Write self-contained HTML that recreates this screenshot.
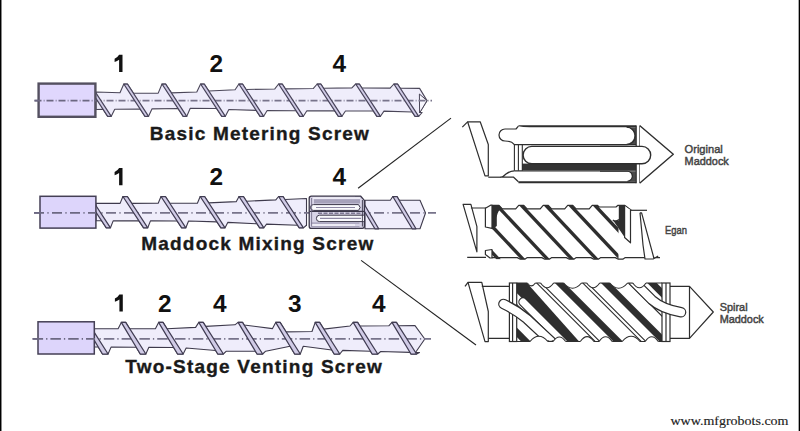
<!DOCTYPE html>
<html><head><meta charset="utf-8"><style>
html,body{margin:0;padding:0;background:#fff;}
body{width:800px;height:431px;overflow:hidden;position:relative;}
svg{position:absolute;left:0;top:0;}
</style></head><body>
<svg width="800" height="431" viewBox="0 0 800 431">
<rect x="0" y="0" width="800" height="431" fill="#fff"/>
<polygon points="96,92 120,92.82 123.8,84 127.4,84 133.48,93.28 158.2,93.14 162,84 165.6,84 171.41,92.87 196.8,91.98 200.6,84 204.2,84 208.83,91.07 235.1,89.7 238.9,84 242.5,84 246.09,89.48 274.8,88.95 278.6,84 282.2,84 285.37,88.85 313.4,88.43 317.2,84 320.8,84 323.57,88.23 351.9,87.86 355.7,84 359.3,84 361.88,87.94 390.1,88.16 393.9,84 397.5,84 400.28,88.24 419.6,88.4 427,100.6 419.6,112.47 422.16,112.5 418.66,116.3 415.06,116.3 412.24,112 383.96,111.12 380.46,116.3 376.86,116.3 373.43,111.07 345.46,110.93 341.96,116.3 338.36,116.3 334.8,110.87 306.86,110.73 303.36,116.3 299.76,116.3 296.08,110.68 267.16,110.54 263.66,116.3 260.06,116.3 256.21,110.42 228.86,109.48 225.36,116.3 221.76,116.3 216.61,108.44 190.26,108.3 186.76,116.3 183.16,116.3 178.03,108.47 152.06,108.83 148.56,116.3 144.96,116.3 140.17,109 114.76,109.29 111.26,116.3 107.66,116.3 103.15,109.42 96,109.5" fill="#efedfb" stroke="#4a4658" stroke-width="1.1" stroke-linejoin="round"/>
<polygon points="419.4,94 427,100.6 419.6,113" fill="#f7f6fd" stroke="#4a4658" stroke-width="1"/>
<line x1="34.5" y1="100.6" x2="432" y2="100.6" stroke="#78748b" stroke-width="1.8" stroke-dasharray="7 2.2 0.8 2"/>
<polygon points="86.5,84 90.1,84 111.26,116.3 107.66,116.3" fill="#d0cbe6" stroke="#48445a" stroke-width="1.25" stroke-linejoin="round"/>
<polygon points="123.8,84 127.4,84 148.56,116.3 144.96,116.3" fill="#d0cbe6" stroke="#48445a" stroke-width="1.25" stroke-linejoin="round"/>
<polygon points="162,84 165.6,84 186.76,116.3 183.16,116.3" fill="#d0cbe6" stroke="#48445a" stroke-width="1.25" stroke-linejoin="round"/>
<polygon points="200.6,84 204.2,84 225.36,116.3 221.76,116.3" fill="#d0cbe6" stroke="#48445a" stroke-width="1.25" stroke-linejoin="round"/>
<polygon points="238.9,84 242.5,84 263.66,116.3 260.06,116.3" fill="#d0cbe6" stroke="#48445a" stroke-width="1.25" stroke-linejoin="round"/>
<polygon points="278.6,84 282.2,84 303.36,116.3 299.76,116.3" fill="#d0cbe6" stroke="#48445a" stroke-width="1.25" stroke-linejoin="round"/>
<polygon points="317.2,84 320.8,84 341.96,116.3 338.36,116.3" fill="#d0cbe6" stroke="#48445a" stroke-width="1.25" stroke-linejoin="round"/>
<polygon points="355.7,84 359.3,84 380.46,116.3 376.86,116.3" fill="#d0cbe6" stroke="#48445a" stroke-width="1.25" stroke-linejoin="round"/>
<polygon points="393.9,84 397.5,84 418.66,116.3 415.06,116.3" fill="#d0cbe6" stroke="#48445a" stroke-width="1.25" stroke-linejoin="round"/>
<rect x="38.6" y="83.6" width="56.8" height="33.2" fill="#e0d7fd" stroke="#545060" stroke-width="2.4"/>
<line x1="34.5" y1="100.6" x2="96" y2="100.6" stroke="#6c6882" stroke-width="1.8" stroke-dasharray="7 2.2 0.8 2"/>
<polygon points="96,203.4 120.1,203.35 122.9,196.5 127.3,196.5 131.81,203.33 158.2,203.28 161,196.5 165.4,196.5 169.86,203.26 197.4,203.2 200.2,196.5 204.6,196.5 208.78,202.83 236.2,201.66 239,196.5 243.4,196.5 246.5,201.2 275.8,199.87 278.6,196.5 283,196.5 284.95,199.46 306.5,198.5 306.5,205 306.5,220 306.5,225.5 306.16,225.5 303.46,227.8 299.26,227.8 297.54,225.2 266.56,224.09 263.86,227.8 259.66,227.8 256.98,223.75 227.76,222.39 225.06,227.8 220.86,227.8 216.93,221.85 188.56,220.98 185.86,227.8 181.66,227.8 177.14,220.96 150.46,220.9 147.76,227.8 143.56,227.8 138.99,220.88 113.16,220.83 110.46,227.8 106.26,227.8 101.65,220.81 96,220.8" fill="#efedfb" stroke="#3e3a4c" stroke-width="1.1" stroke-linejoin="round"/>
<line x1="32" y1="212.8" x2="310" y2="212.8" stroke="#77738a" stroke-width="1.8" stroke-dasharray="10 3.4 1.2 3.4" stroke-dashoffset="-2"/>
<polygon points="85.6,196.5 90,196.5 110.46,227.8 106.26,227.8" fill="#d0cbe6" stroke="#403c52" stroke-width="1.25" stroke-linejoin="round"/>
<polygon points="122.9,196.5 127.3,196.5 147.76,227.8 143.56,227.8" fill="#d0cbe6" stroke="#403c52" stroke-width="1.25" stroke-linejoin="round"/>
<polygon points="161,196.5 165.4,196.5 185.86,227.8 181.66,227.8" fill="#d0cbe6" stroke="#403c52" stroke-width="1.25" stroke-linejoin="round"/>
<polygon points="200.2,196.5 204.6,196.5 225.06,227.8 220.86,227.8" fill="#d0cbe6" stroke="#403c52" stroke-width="1.25" stroke-linejoin="round"/>
<polygon points="239,196.5 243.4,196.5 263.86,227.8 259.66,227.8" fill="#d0cbe6" stroke="#403c52" stroke-width="1.25" stroke-linejoin="round"/>
<polygon points="278.6,196.5 283,196.5 303.46,227.8 299.26,227.8" fill="#d0cbe6" stroke="#403c52" stroke-width="1.25" stroke-linejoin="round"/>
<polygon points="365,200.2 390.3,200.2 392.8,196.5 397,196.5 399.22,200.2 420,200.2 425.5,213 420,228.7 418.48,228.7 415.98,228.8 412.18,228.8 412.12,228.7 381.18,228.7 378.68,228.8 374.88,228.8 374.82,228.7 365,228.7" fill="#efedfb" stroke="#3e3a4c" stroke-width="1.1" stroke-linejoin="round"/>
<line x1="366" y1="212.8" x2="436" y2="212.8" stroke="#77738a" stroke-width="1.8" stroke-dasharray="10 3.4 1.2 3.4" stroke-dashoffset="-8"/>
<polygon points="355.5,196.5 359.7,196.5 378.68,228.8 374.88,228.8" fill="#d0cbe6" stroke="#403c52" stroke-width="1.25" stroke-linejoin="round"/>
<polygon points="392.8,196.5 397,196.5 415.98,228.8 412.18,228.8" fill="#d0cbe6" stroke="#403c52" stroke-width="1.25" stroke-linejoin="round"/>
<rect x="40" y="196.3" width="55.9" height="31.8" fill="#ddd5fb" stroke="#443f55" stroke-width="1.5"/>
<line x1="32" y1="212.8" x2="96" y2="212.8" stroke="#6c6882" stroke-width="1.8" stroke-dasharray="10 3.4 1.2 3.4" stroke-dashoffset="-2"/>
<polygon points="94.5,328.8 118.1,328.8 121.3,322.4 125.7,322.4 129.54,328.8 155.4,328.8 158.6,322.4 163,322.4 166.84,328.8 195.6,327.34 198.8,322.4 203.2,322.4 205.61,326.41 234.9,324.82 238.1,322.4 242.5,322.4 244.08,325.03 272.5,328.59 275.7,322.4 280.1,322.4 285.8,331.9 312,331.49 315.2,322.4 319.6,322.4 323.61,329.09 350,326 353.2,322.4 357.6,322.4 359.72,325.94 388.8,325.76 392,322.4 396.4,322.4 398.38,325.7 415,325.6 424.8,339 415.5,352.5 419.56,352.5 416.56,354 410.96,354 409.97,352.35 380.76,351.49 377.76,354 372.16,354 370.47,351.19 342.76,350.38 339.76,354 334.16,354 331.79,350.05 303.26,346.3 300.26,354 294.66,354 290.04,346.3 265.66,351.2 262.66,354 257.06,354 255.38,351.2 226.36,351.2 223.36,354 217.76,354 215.62,350.43 186.16,348.01 183.16,354 177.56,354 173.64,347.46 148.86,347.32 145.86,354 140.26,354 136.21,347.24 111.06,347.1 108.06,354 102.46,354 98.27,347.02 94.5,347" fill="#efedfb" stroke="#3e3a4c" stroke-width="1.1" stroke-linejoin="round"/>
<line x1="32.6" y1="338.8" x2="431" y2="338.8" stroke="#77738a" stroke-width="1.8" stroke-dasharray="10.5 3 1.3 3"/>
<polygon points="83.5,322.4 87.9,322.4 108.06,354 102.46,354" fill="#d0cbe6" stroke="#403c52" stroke-width="1.25" stroke-linejoin="round"/>
<polygon points="121.3,322.4 125.7,322.4 145.86,354 140.26,354" fill="#d0cbe6" stroke="#403c52" stroke-width="1.25" stroke-linejoin="round"/>
<polygon points="158.6,322.4 163,322.4 183.16,354 177.56,354" fill="#d0cbe6" stroke="#403c52" stroke-width="1.25" stroke-linejoin="round"/>
<polygon points="198.8,322.4 203.2,322.4 223.36,354 217.76,354" fill="#d0cbe6" stroke="#403c52" stroke-width="1.25" stroke-linejoin="round"/>
<polygon points="238.1,322.4 242.5,322.4 262.66,354 257.06,354" fill="#d0cbe6" stroke="#403c52" stroke-width="1.25" stroke-linejoin="round"/>
<polygon points="275.7,322.4 280.1,322.4 300.26,354 294.66,354" fill="#d0cbe6" stroke="#403c52" stroke-width="1.25" stroke-linejoin="round"/>
<polygon points="315.2,322.4 319.6,322.4 339.76,354 334.16,354" fill="#d0cbe6" stroke="#403c52" stroke-width="1.25" stroke-linejoin="round"/>
<polygon points="353.2,322.4 357.6,322.4 377.76,354 372.16,354" fill="#d0cbe6" stroke="#403c52" stroke-width="1.25" stroke-linejoin="round"/>
<polygon points="392,322.4 396.4,322.4 416.56,354 410.96,354" fill="#d0cbe6" stroke="#403c52" stroke-width="1.25" stroke-linejoin="round"/>
<rect x="38" y="321.8" width="56.3" height="32.2" fill="#ddd5fb" stroke="#443f55" stroke-width="1.5"/>
<line x1="32.6" y1="338.8" x2="95" y2="338.8" stroke="#6c6882" stroke-width="1.8" stroke-dasharray="10.5 3 1.3 3"/>

<path d="M311.4,196.2 H360.7 L364.4,200.4 V226.3 Q364.4,228.4 362.3,228.4 H311.4 Q309.2,228.4 309.2,226.2 V198.4 Q309.2,196.2 311.4,196.2 Z" fill="#d8d4e7" stroke="#3a3648" stroke-width="1.3"/>
<rect x="314" y="199.2" width="46" height="4.3" fill="#a6a1ba"/>
<line x1="313" y1="198.2" x2="360" y2="198.2" stroke="#f6f5fb" stroke-width="1.2"/>
<path d="M358.5,204.6 H313.4 A2.9,2.9 0 0 0 313.4,210.4 H358.5 L360.2,207.5 Z" fill="#fafafd" stroke="#3a3648" stroke-width="1"/>
<line x1="316" y1="207.5" x2="355" y2="207.5" stroke="#8e88a4" stroke-width="1.1"/>
<line x1="309.5" y1="211.4" x2="364" y2="211.4" stroke="#3a3648" stroke-width="1.3"/>
<line x1="318" y1="213.2" x2="362" y2="213.2" stroke="#7e7894" stroke-width="1.4" stroke-dasharray="4 1.5"/>
<path d="M363.8,215.2 H319.6 A3.2,3.2 0 0 0 319.6,221.6 H363.8" fill="#fafafd" stroke="#3a3648" stroke-width="1"/>
<line x1="320" y1="218.4" x2="361" y2="218.4" stroke="#8e88a4" stroke-width="1.1"/>
<rect x="311.5" y="222.4" width="48" height="1.4" fill="#a6a1ba"/>
<line x1="312" y1="225" x2="355" y2="225" stroke="#f6f5fb" stroke-width="1.6"/>
<rect x="311.5" y="226" width="48" height="1.4" fill="#a6a1ba"/>
<line x1="311.6" y1="198" x2="311.6" y2="226.5" stroke="#6a6480" stroke-width="0.8"/>
<line x1="362.4" y1="200" x2="362.4" y2="226.5" stroke="#3a3648" stroke-width="0.9"/>


<line x1="358.1" y1="188.2" x2="451" y2="118.1" stroke="#222" stroke-width="1.1"/>
<line x1="361.1" y1="260.4" x2="476" y2="345" stroke="#222" stroke-width="1.1"/>


<g fill="none" stroke="#2e2e2e" stroke-width="1.2" stroke-linejoin="round">
<path d="M467.6,121.8 H480.2 L488.3,144.5 V175.9 H485 Z" fill="#fff"/><path d="M462.3,127.2 L467.6,121.8"/>
<path d="M488.3,177.2 H501"/>
<!-- body outer -->
<path d="M518.4,126.2 H636.2 M518.4,182.2 H636.2" stroke-width="2"/>
<!-- upper groove -->
<path d="M518.4,126.2 L516,129 H505 A6,6 0 0 0 505,141 Q511.5,141 514.4,144.6 H636" fill="#fff"/>
<path d="M626,127.2 H636 V144 H626 A8.4,8.4 0 0 0 626,127.2 Z" fill="#4a4a4a" stroke="none"/>
<path d="M600,144.6 H626.6 A8.7,8.7 0 0 0 626.6,127.2" stroke-width="1.2"/>
<!-- lower land/dark band -->
<rect x="522" y="163.6" width="114" height="6.6" fill="#333" stroke="none"/>
<path d="M514.4,170.8 H636" stroke-width="1.2"/>
<!-- lower groove -->
<path d="M514.4,170.8 Q510,171 506,174 Q503,177 501,177.2 H513.6 L518.4,181.8" />
<path d="M627,171.4 H636 V181.2 H627 A4.9,4.9 0 0 0 627,171.4 Z" fill="#4a4a4a" stroke="none"/>
<path d="M600,171.2 H627.4 A5,5 0 0 1 627.4,181.2" stroke-width="1.1"/>
<!-- vertical lines left -->
<path d="M514.4,144.5 V170.8 M518.4,144.5 V170.8 M522.3,144.5 V170.8" stroke-width="1.1"/>
<!-- ring + tip -->
<path d="M636.2,125.6 V183.3 M639.9,125.6 V183.3" stroke-width="1.2"/>
<path d="M639.9,125.8 L673.3,154.2 L639.9,183" fill="#fff" stroke-width="1.4"/>
<!-- middle channel -->
<path d="M531.8,146.4 H642 A8.7,8.7 0 0 1 642,163.8 H531.8 A8.7,8.7 0 0 1 531.8,146.4 Z" fill="#fff" stroke-width="1.4"/>
</g>

<g fill="none" stroke="#2e2e2e" stroke-width="1.2" stroke-linejoin="round">
<path d="M463.1,204.4 H470.9 L476.9,226.7 V251.8 Z" fill="#fff"/>
<path d="M470.9,208 H486 M467.2,257.3 H486"/>
<path d="M485.4,208.3 L490.6,205.2 H492 V228.4 L485.4,227 Z" fill="#fff"/>
<path d="M485.4,250.5 L492,249.5 V258 H490 L485.4,254.5 Z" fill="#fff"/>
<path d="M492,205.3 H499 L502.3,208.8 H515.7 L518.7,205.3 H523.8 L527.1,208.8 H540.2 L543.2,205.3 H548.3 L551.6,208.8 H564.7 L567.7,205.3 H572.8 L576.1,208.8 H589.2 L592.2,205.3 H597.3 L599.2,207 H616 L618,205.3 H624.6 L631.3,210.3"/>
<path d="M492,257.6 H517.3 L520.3,259.2 H524.8 L527.3,257.6 H541.8 L544.8,259.2 H549.3 L551.8,257.6 H566.3 L569.3,259.2 H573.8 L576.3,257.6 H590.8 L593.8,259.2 H598.3 L600.8,257.6 H615.3 L618.3,259.2 H622.8 L625.3,257.6 H660"/>
</g>
<clipPath id="egc"><rect x="492" y="205" width="126.5" height="54.5"/></clipPath>
<g clip-path="url(#egc)" fill="#2e2e2e">
<polygon points="445.5,205.3 450.1,205.3 500.9,259.3 496.3,259.3"/>
<polygon points="470.0,205.3 474.6,205.3 525.4,259.3 520.8,259.3"/>
<polygon points="494.5,205.3 499.1,205.3 549.9,259.3 545.3,259.3"/>
<polygon points="519.0,205.3 523.6,205.3 574.4,259.3 569.8,259.3"/>
<polygon points="543.5,205.3 548.1,205.3 598.9,259.3 594.3,259.3"/>
<polygon points="568.0,205.3 572.6,205.3 623.4,259.3 618.8,259.3"/>
<polygon points="592.5,205.3 597.1,205.3 647.9,259.3 643.3,259.3"/>
</g>
<path d="M492,205.2 H498.6 L501,209 Q498,211 497.6,213.5 Q496.8,215 496.8,218 V226 L492,229.5 Z" fill="#2e2e2e"/>
<path d="M618.8,205.3 H624.8 V237.5 L613.2,220.4 H618.8 Z" fill="#2e2e2e"/>
<path d="M612.8,220 Q615.5,222.5 619,219.5" fill="none" stroke="#2e2e2e" stroke-width="1.2"/>
<g fill="none" stroke="#2e2e2e" stroke-width="1.2" stroke-linejoin="round">
<path d="M624.6,206 V237.5 L630.5,242.8 V210" fill="#fff"/>
<path d="M631,210.3 H647"/>
<path d="M640,212.8 L641.6,212.8 L654,258.5 L658.2,256 M640,212.8 L643,245 L645,259 H653.8" fill="#fff"/>
</g>
<g fill="none" stroke="#2e2e2e" stroke-width="1.2" stroke-linejoin="round">
<path d="M468,282.3 H481.8 L488.3,311.5 V341.6 H485 Z" fill="#fff"/><path d="M465,286.4 L468,282.3"/>
<path d="M481.8,286.4 H509.4 M488.3,338.3 H509.4"/>
<path d="M670,286.4 H689.5 L713.3,312 L689.5,338.3 H670" fill="#fff"/>
<path d="M689.5,286.4 V338.3"/>
</g>
<clipPath id="spc"><rect x="516.7" y="283" width="145.29999999999995" height="58.5"/></clipPath>
<rect x="516.7" y="283" width="145.29999999999995" height="58.5" fill="#fff"/>
<g clip-path="url(#spc)">
<polygon points="461.7,282 471.2,282 531.7,342.5 522.2,342.5" fill="#2e2e2e"/>
<polygon points="553.9,282 563.4,282 623.9,342.5 614.4,342.5" fill="#2e2e2e"/>
<polygon points="600.0,282 609.5,282 670.0,342.5 660.5,342.5" fill="#2e2e2e"/>
<polygon points="646.3,282 655.8,282 716.3,342.5 706.8,342.5" fill="#2e2e2e"/>
<polygon points="489.6,282 494.2,282 554.7,342.5 550.1,342.5" fill="#fff" stroke="#2e2e2e" stroke-width="1.1"/>
<polygon points="535.7,282 540.3,282 600.8,342.5 596.2,342.5" fill="#fff" stroke="#2e2e2e" stroke-width="1.1"/>
<polygon points="581.8,282 586.4,282 646.9,342.5 642.3,342.5" fill="#fff" stroke="#2e2e2e" stroke-width="1.1"/>
<polygon points="627.9,282 632.5,282 693.0,342.5 688.4,342.5" fill="#fff" stroke="#2e2e2e" stroke-width="1.1"/>
<polygon points="516.7,283 527,283 580,342.5 566,342.5 516.7,293" fill="#2e2e2e"/>
<path d="M523,302 L566,345" stroke="#2e2e2e" stroke-width="9.4" stroke-linecap="round"/>
<path d="M523,302 L566,345" stroke="#fff" stroke-width="7" stroke-linecap="round"/>
</g>
<g fill="#fff" stroke="#2e2e2e" stroke-width="1.2">
<rect x="509.4" y="283" width="7.3" height="58.5"/>
<line x1="512.6" y1="283" x2="512.6" y2="341.5"/>
<rect x="662" y="283" width="8" height="58.5"/>
<line x1="666" y1="283" x2="666" y2="341.5"/>
</g>
<clipPath id="spc2"><rect x="490" y="283.6" width="210" height="56.6"/></clipPath>
<g clip-path="url(#spc2)" fill="none" stroke-linecap="round">
<path d="M503.5,304 C512,308 520,313 527,319 L556,346" stroke="#2e2e2e" stroke-width="10.6"/>
<path d="M503.5,304 C512,308 520,313 527,319 L556,346" stroke="#fff" stroke-width="8.2"/>
<path d="M681,312.2 C668,310 660,307 652,300 L630,278" stroke="#2e2e2e" stroke-width="10.6"/>
<path d="M681,312.2 C668,310 660,307 652,300 L630,278" stroke="#fff" stroke-width="8.2"/>
</g>
<path d="M516.7,283 H662 M516.7,341.5 H662" stroke="#2e2e2e" stroke-width="1.2"/>
<path d="M527.3,282.0 L527.3,283.0 Q531.4,288.8 535.4,283.0 L535.4,282.0 Z" fill="#fff" stroke="none"/>
<path d="M527.3,283.0 Q531.4,288.8 535.4,283.0" fill="none" stroke="#2e2e2e" stroke-width="1.1"/>
<path d="M540.6,282.0 L540.6,283.0 Q547.1,292.4 553.6,283.0 L553.6,282.0 Z" fill="#fff" stroke="none"/>
<path d="M540.6,283.0 Q547.1,292.4 553.6,283.0" fill="none" stroke="#2e2e2e" stroke-width="1.1"/>
<path d="M563.7,282.0 L563.7,283.0 Q572.6,293.4 581.5,283.0 L581.5,282.0 Z" fill="#fff" stroke="none"/>
<path d="M563.7,283.0 Q572.6,293.4 581.5,283.0" fill="none" stroke="#2e2e2e" stroke-width="1.1"/>
<path d="M586.7,282.0 L586.7,283.0 Q593.2,292.4 599.7,283.0 L599.7,282.0 Z" fill="#fff" stroke="none"/>
<path d="M586.7,283.0 Q593.2,292.4 599.7,283.0" fill="none" stroke="#2e2e2e" stroke-width="1.1"/>
<path d="M609.8,282.0 L609.8,283.0 Q618.7,293.4 627.6,283.0 L627.6,282.0 Z" fill="#fff" stroke="none"/>
<path d="M609.8,283.0 Q618.7,293.4 627.6,283.0" fill="none" stroke="#2e2e2e" stroke-width="1.1"/>
<path d="M632.8,282.0 L632.8,283.0 Q639.4,292.5 646.0,283.0 L646.0,282.0 Z" fill="#fff" stroke="none"/>
<path d="M632.8,283.0 Q639.4,292.5 646.0,283.0" fill="none" stroke="#2e2e2e" stroke-width="1.1"/>
<path d="M530.0,342.5 L530.0,341.5 Q538.9,331.1 547.8,341.5 L547.8,342.5 Z" fill="#fff" stroke="none"/>
<path d="M530.0,341.5 Q538.9,331.1 547.8,341.5" fill="none" stroke="#2e2e2e" stroke-width="1.1"/>
<path d="M553.0,342.5 L553.0,341.5 Q559.4,332.4 565.7,341.5 L565.7,342.5 Z" fill="#fff" stroke="none"/>
<path d="M553.0,341.5 Q559.4,332.4 565.7,341.5" fill="none" stroke="#2e2e2e" stroke-width="1.1"/>
<path d="M580.3,342.5 L580.3,341.5 Q587.1,331.7 593.9,341.5 L593.9,342.5 Z" fill="#fff" stroke="none"/>
<path d="M580.3,341.5 Q587.1,331.7 593.9,341.5" fill="none" stroke="#2e2e2e" stroke-width="1.1"/>
<path d="M599.1,342.5 L599.1,341.5 Q605.6,332.1 612.1,341.5 L612.1,342.5 Z" fill="#fff" stroke="none"/>
<path d="M599.1,341.5 Q605.6,332.1 612.1,341.5" fill="none" stroke="#2e2e2e" stroke-width="1.1"/>
<path d="M622.2,342.5 L622.2,341.5 Q631.1,331.1 640.0,341.5 L640.0,342.5 Z" fill="#fff" stroke="none"/>
<path d="M622.2,341.5 Q631.1,331.1 640.0,341.5" fill="none" stroke="#2e2e2e" stroke-width="1.1"/>
<path d="M645.2,342.5 L645.2,341.5 Q651.7,332.1 658.2,341.5 L658.2,342.5 Z" fill="#fff" stroke="none"/>
<path d="M645.2,341.5 Q651.7,332.1 658.2,341.5" fill="none" stroke="#2e2e2e" stroke-width="1.1"/>

<g font-family="Liberation Sans, sans-serif" fill="#444" stroke="#444" stroke-width="0.45" font-size="11">
<text x="684.6" y="153" textLength="38.2" lengthAdjust="spacingAndGlyphs">Original</text>
<text x="684.6" y="165.4" textLength="44.2" lengthAdjust="spacingAndGlyphs">Maddock</text>
<text x="665" y="233.8" textLength="22" lengthAdjust="spacingAndGlyphs">Egan</text>
<text x="719.7" y="310.8" textLength="27.9" lengthAdjust="spacingAndGlyphs">Spiral</text>
<text x="719.7" y="322.9" textLength="44.1" lengthAdjust="spacingAndGlyphs">Maddock</text>
</g>


<g font-family="Liberation Sans, sans-serif" font-weight="bold" fill="#111" font-size="24.4">
<path transform="translate(0,0)" d="M119.1,54.8 H122.5 V71.9 H119.1 V59.7 Q117.2,61.3 114.6,62 V58.7 Q117.6,57.5 119.1,54.8 Z"/><text x="209.5" y="72">2</text><text x="332.5" y="72">4</text>
<path transform="translate(0,113.3)" d="M119.1,54.8 H122.5 V71.9 H119.1 V59.7 Q117.2,61.3 114.6,62 V58.7 Q117.6,57.5 119.1,54.8 Z"/><text x="209.5" y="185.3">2</text><text x="332.5" y="185.3">4</text>
<path transform="translate(0.3,239.7)" d="M119.1,54.8 H122.5 V71.9 H119.1 V59.7 Q117.2,61.3 114.6,62 V58.7 Q117.6,57.5 119.1,54.8 Z"/><text x="158" y="311.7">2</text><text x="213" y="311.7">4</text><text x="288" y="311.7">3</text><text x="372" y="311.7">4</text>
</g>
<g font-family="Liberation Sans, sans-serif" font-weight="bold" fill="#1a1a1a" stroke="#1a1a1a" stroke-width="0.35" font-size="19">
<text x="149.8" y="139.8" textLength="219" lengthAdjust="spacing">Basic Metering Screw</text>
<text x="141.2" y="250" textLength="232" lengthAdjust="spacing">Maddock Mixing Screw</text>
<text x="125.3" y="373.3" textLength="256.5" lengthAdjust="spacing">Two-Stage Venting Screw</text>
</g>
<text x="670.5" y="424.6" font-family="Liberation Serif, serif" font-size="13" fill="#222" stroke="#222" stroke-width="0.15" textLength="118" lengthAdjust="spacingAndGlyphs">www.mfgrobots.com</text>

<rect x="0" y="0" width="1" height="431" fill="#000"/>
<rect x="1" y="0" width="1" height="431" fill="#888"/>
<rect x="799" y="0" width="1" height="431" fill="#000"/>
<rect x="798" y="0" width="1" height="431" fill="#aaa"/>
</svg>
</body></html>
